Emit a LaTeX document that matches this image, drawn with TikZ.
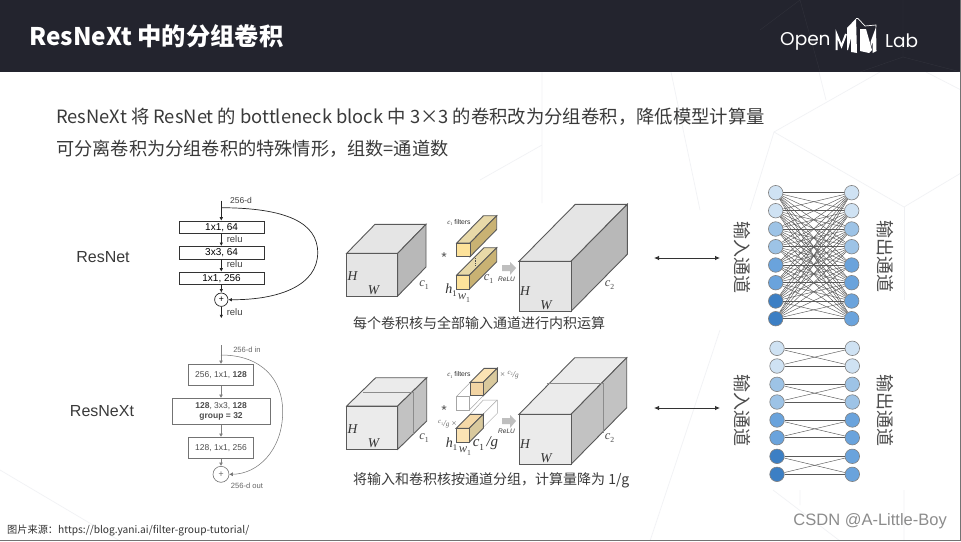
\documentclass[tikz,border=0pt]{standalone}
\usepackage{fontspec}
\setmainfont{Noto Sans CJK SC}
\newfontfamily\latinf{Liberation Sans}
\newfontfamily\popf{Poppins}[FontFace={m}{n}{Font=* Medium}]
\newfontfamily\seriff{Liberation Serif}
\usetikzlibrary{arrows.meta,calc}
\definecolor{hdr}{HTML}{23242E}
\definecolor{bodytxt}{HTML}{3A3A3A}
\definecolor{fillA}{HTML}{CFE2F3}
\definecolor{fillB}{HTML}{9DC3E6}
\definecolor{fillC}{HTML}{6AA3DC}
\definecolor{fillD}{HTML}{3C7FC4}
\definecolor{bgl}{HTML}{F1F2F5}
\definecolor{yelF}{HTML}{FDE29A}
\definecolor{yelT}{HTML}{E8D9A8}
\definecolor{yelS}{HTML}{C9B273}
\definecolor{sandF}{HTML}{FBE3B4}
\newcommand\lsub[2]{#1\raisebox{-.22em}{\scalebox{.62}{\upshape #2}}}
\newcommand\lsup[3]{\raisebox{.3em}{\scalebox{.75}{#1\raisebox{-.22em}{\scalebox{.62}{\upshape #2}}}}\raisebox{-.05em}{/}\scalebox{.8}{#3}}
\tikzset{
  flowbox/.style={draw=black!80,line width=.7pt,fill=white,minimum height=12.5pt,minimum width=85pt,inner sep=0pt,font=\latinf\fontsize{10}{10}\selectfont},
  xbox/.style={draw=black!55,line width=.6pt,fill=white,inner sep=0pt,font=\latinf\fontsize{8.5}{10.5}\selectfont,text=black!70,align=center},
  flowarrow/.style={-{Latex[length=3.5pt,width=3.5pt]},line width=.7pt,draw=black!85},
  xarrow/.style={-{Latex[length=3.5pt,width=4pt]},line width=.7pt,draw=black!50},
  small/.style={font=\latinf\fontsize{8.5}{8.5}\selectfont,text=black!75},
  relutext/.style={font=\latinf\fontsize{9.5}{9.5}\selectfont,text=black!75},
  neuron/.style={circle,draw=black!50,line width=.6pt,minimum size=14.5pt,inner sep=0pt},
  wire/.style={draw=black!65,line width=.45pt},
  vtext/.style={rotate=-90,font=\fontsize{18}{18}\selectfont,text=black!70},
  captext/.style={font=\fontsize{14}{14}\selectfont,text=bodytxt},
  mlabel/.style={inner sep=0pt,text=black!80},
  big/.style={mlabel,font=\seriff\itshape\fontsize{13.5}{14}\selectfont},
  mid/.style={mlabel,font=\seriff\itshape\fontsize{12.5}{13}\selectfont,text=black!70},
  midb/.style={mlabel,font=\seriff\itshape\fontsize{14}{14}\selectfont},
  starlab/.style={mlabel,font=\fontsize{15}{15}\selectfont,text=black!60},
  bgline/.style={draw=bgl,line width=.7pt},
  edgecube/.style={draw=black!65,line width=.9pt},
  tinytext/.style={mlabel,font=\latinf\fontsize{6.8}{7}\selectfont},
  fracl/.style={mlabel,font=\seriff\itshape\fontsize{9}{9}\selectfont,text=black!60},
}
% x y w h dx dy front top side
\newcommand\cuboid[9]{%
  \path[edgecube,fill=#8] (#1,#2) -- ++(#5,-#6) -- ++(#3,0) -- ++(-#5,#6) -- cycle;
  \path[edgecube,fill=#9] (#1,#2) ++(#3,0) -- ++(#5,-#6) -- ++(0,#4) -- ++(-#5,#6) -- cycle;
  \path[edgecube,fill=#7] (#1,#2) rectangle ++(#3,#4);
}
\begin{document}
\begin{tikzpicture}[x=1pt,y=-1pt]
\useasboundingbox (0,0) rectangle (961,541);
\fill[white] (0,0) rectangle (961,541);
% faint background lines
\draw[bgline] (542,72) -- (542,203) (542,145) -- (480,180);
\draw[bgline] (671,72) -- (700,210);
\draw[bgline] (819,72) -- (826,100);
\draw[bgline] (880,72) -- (774,132) -- (750,210);
\draw[bgline] (774,132) -- (904,207) -- (961,173);
\draw[bgline] (904,207) -- (904,300);
\draw[bgline] (926,72) -- (961,90);
\draw[bgline] (904,490) -- (904,541) (800,490) -- (800,505) (773,490) -- (840,541);
\draw[bgline] (0,470) -- (120,541);
\draw[bgline] (650,541) -- (720,330);
% header
\fill[hdr] (0,0) rectangle (961,72);
\draw[white,opacity=.06] (760,30) -- (800,0) (800,0) -- (820,72) (903,0) -- (903,57) -- (961,72) (903,57) -- (860,72);
\node[anchor=west,text=white,inner sep=0pt,font=\fontsize{24.3}{25}\bfseries\selectfont] (title) at (29,36) {ResNeXt 中的分组卷积};
% logo
\node[anchor=west,text=white,inner sep=0pt,font=\popf\fontsize{18.5}{19}\selectfont] (open) at (780,41) {Open};
\node[anchor=west,text=white,inner sep=0pt,font=\popf\fontsize{18.5}{19}\selectfont] (lab) at (885,41) {Lab};
\draw[white,line width=2pt,line join=miter] (836.5,50) -- (836.5,34) -- (841.5,46) -- (846,34);
\fill[white] (847,28) -- (856,18.5) -- (857,53) -- (851,52) -- (851,38) -- (848,50) -- (847,50) -- cycle;
\draw[white,line width=.7pt] (856,18.5) -- (858,18.5) -- (865,26) -- (876,25) -- (876,27);
\fill[white] (860,29) -- (866,29) -- (872,50) -- (869,53) -- (860,51) -- cycle;
\fill[white] (870.5,42) -- (876,27) -- (876.5,51) -- (872.5,53) -- (872.5,42) -- (871,47) -- cycle;
% body text
\node[anchor=west,text=bodytxt,inner sep=0pt,font=\fontsize{18.35}{19}\selectfont] (l1) at (56,117) {ResNeXt 将 ResNet 的 bottleneck block 中 3×3 的卷积改为分组卷积，降低模型计算量};
\node[anchor=west,text=bodytxt,inner sep=0pt,font=\fontsize{18.2}{19}\selectfont] (l2) at (56,149) {可分离卷积为分组卷积的特殊情形，组数=通道数};
\node[text=bodytxt,inner sep=0pt,font=\latinf\fontsize{16}{16}\selectfont] (rn) at (103,257) {ResNet};
\node[text=bodytxt,inner sep=0pt,font=\latinf\fontsize{16}{16}\selectfont] (rx) at (102,411) {ResNeXt};
% ResNet block
\coordinate (r0) at (221.3,200.7);
\coordinate (r0b) at (221.3,207.7);
\coordinate (rend) at (221.3,318.3);
\node[flowbox] (r1) at (221.6,227.3) {1x1, 64};
\node[flowbox] (r2) at (221.6,252.6) {3x3, 64};
\node[flowbox] (r3) at (221.6,278.3) {1x1, 256};
\node[circle,draw=black!85,line width=.7pt,minimum size=13.4pt,inner sep=0pt,font=\fontsize{9}{9}\selectfont] (rp) at (221.3,299.7) {+};
\draw[flowarrow] (r0) -- (r0|-r1.north);
\draw[flowarrow] (r0|-r1.south) -- (r0|-r2.north);
\draw[flowarrow] (r0|-r2.south) -- (r0|-r3.north);
\draw[flowarrow] (r0|-r3.south) -- (rp);
\draw[flowarrow] (rp) -- (rend);
\draw[flowarrow] (r0b) .. controls (285,208) and (318,222) .. (317.7,253) .. controls (317.5,285) and (280,300) .. (rp.east);
\node[small] (t1) at (241,200) {256-d};
\node[relutext] (t2) at (234.7,239) {relu};
\node[relutext] (t3) at (234.7,264.3) {relu};
\node[relutext] (t4) at (234.7,311.7) {relu};
% ResNeXt block
\coordinate (x0) at (221,345);
\coordinate (x0b) at (221,355);
\node[xbox,minimum width=65.4pt,minimum height=21pt] (x1) at (221,374.8) {256, 1x1, \textbf{128}};
\node[xbox,minimum width=98.3pt,minimum height=26pt] (x2) at (221.1,411.3) {\textbf{128}, 3x3, \textbf{128}\\\textbf{group = 32}};
\node[xbox,minimum width=65.4pt,minimum height=21pt] (x3) at (221,447.8) {128, 1x1, 256};
\node[circle,draw=black!55,line width=.6pt,minimum size=16pt,inner sep=0pt,text=black!60,font=\fontsize{9}{9}\selectfont] (xp) at (221,474.3) {+};
\draw[xarrow] (x0) -- (x1);
\draw[xarrow] (x1) -- (x1|-x2.north);
\draw[xarrow] (x1|-x2.south) -- (x3);
\draw[xarrow] (x3) -- (xp);
\draw[-{Latex[length=3.5pt,width=4pt]},line width=.5pt,draw=black!55] (x0b) .. controls (262,355) and (283,380) .. (282.7,412) .. controls (282.5,450) and (258,474) .. (xp.east);
\node[small,text=black!60,font=\latinf\fontsize{7.6}{8}\selectfont] (t5) at (247,349.3) {256-d in};
\node[small,text=black!60,font=\latinf\fontsize{7.6}{8}\selectfont] (t6) at (247,486) {256-d out};
% Row 1 cubes
\cuboid{346.7}{253.3}{51}{42.7}{28.3}{29}{black!10}{black!10}{black!28}
\node[big] (m1) at (352.5,276) {H};
\node[big] (m2) at (373.5,290) {W};
\node[mid] (m3) at (424,285) {\lsub{c}{1}};
\node[starlab] (m4) at (444,259) {*};
\cuboid{456.7}{243}{13.3}{13.7}{26.7}{27.3}{yelF}{yelT}{yelS}
\cuboid{456.7}{275}{12.7}{14}{27.3}{27.3}{yelF}{yelT}{yelS}
\draw[black!70,densely dotted,line width=.7pt] (475.7,258) -- (475.7,266);
\node[tinytext] (m5) at (459,222.7) {{\seriff\itshape\lsub{c}{1}} filters};
\node[mid] (m6) at (488.5,279) {\lsub{c}{1}};
\node[midb] (m7) at (451,290) {\lsub{h}{1}};
\node[mid] (m8) at (464,298) {\lsub{w}{1}};
\fill[black!25] (502,265) -- (510,265) -- (510,262) -- (516,268) -- (510,275) -- (510,271) -- (502,271) -- cycle;
\node[tinytext,font=\latinf\itshape\fontsize{6.5}{7}\selectfont] (m9) at (506.5,279) {ReLU};
\cuboid{519}{261.3}{52}{50}{56.3}{57}{black!10}{black!10}{black!28}
\node[big] (m10) at (525,291) {H};
\node[big] (m11) at (546,305) {W};
\node[mid] (m12) at (609.5,285) {\lsub{c}{2}};
\node[captext] (c1) at (479,323) {每个卷积核与全部输入通道进行内积运算};
% Row 2 cubes
\cuboid{346.7}{406}{51}{43.3}{29}{28.3}{black!8}{black!8}{black!24}
\draw[black!45,line width=.4pt] (363.3,391.7) -- (412.7,391.7) -- (412.7,435);
\node[big] (n1) at (352.5,429) {H};
\node[big] (n2) at (373.5,443) {W};
\node[mid] (n3) at (424,438) {\lsub{c}{1}};
\node[starlab] (n4) at (444,411.5) {*};
% ghost filters
\begin{scope}[black!35,line width=.5pt]
\draw (456.3,396.7) rectangle (469.3,410);
\draw (456.3,396.7) -- (470.3,382.3);
\draw (469.3,396.7) -- (483.3,382.3);
\draw (469.3,410) -- (483.3,395.7);
\draw (470.3,414) -- (483.3,400) -- (497.3,400) -- (497.3,413.3) -- (483.3,427.3);
\draw (483.3,414) -- (497.3,400);
\end{scope}
\cuboid{470.3}{382.3}{13}{13.4}{14}{14}{sandF!85!brown}{sandF}{yelS!70!white}
\cuboid{456.3}{428.3}{13}{14}{14}{14}{sandF}{sandF!90!brown}{yelS!70!white}
\node[tinytext] (n5) at (459,375) {{\seriff\itshape\lsub{c}{1}} filters};
\node[fracl] (n6) at (509.5,375) {\textup{×} \lsup{c}{2}{g}};
\node[fracl] (n7) at (447.5,424.3) {\lsup{c}{1}{g} \textup{×}};
\node[midb,font=\seriff\itshape\fontsize{15}{15}\selectfont] (n8) at (485.5,443.5) {\lsub{c}{1}\,/g};
\node[midb] (n9) at (451.5,444) {\lsub{h}{1}};
\node[mid] (n10) at (465,451) {\lsub{w}{1}};
\fill[black!25] (502,418) -- (510,418) -- (510,415) -- (516,421) -- (510,428) -- (510,424) -- (502,424) -- cycle;
\node[tinytext,font=\latinf\itshape\fontsize{6.5}{7}\selectfont] (n11) at (506.5,431) {ReLU};
\cuboid{519}{414.3}{52}{50}{55.7}{56.6}{black!8}{black!8}{black!24}
\draw[black!45,line width=.4pt] (546.7,383.3) -- (602.7,383.3) -- (602.7,433.3);
\node[big] (n12) at (525,444) {H};
\node[big] (n13) at (546,458) {W};
\node[mid] (n14) at (609.5,438) {\lsub{c}{2}};
\node[captext,anchor=west,inner sep=0pt] (c2) at (353,480) {将输入和卷积核按通道分组，计算量降为 1/g};
% double arrows
\coordinate (da1) at (654,258);\coordinate (da2) at (720,258);
\coordinate (db1) at (654,408);\coordinate (db2) at (720,408);
\draw[{Latex[length=5pt,width=4.5pt]}-{Latex[length=5pt,width=4.5pt]},line width=.8pt,black!80] (da1) -- (da2);
\draw[{Latex[length=5pt,width=4.5pt]}-{Latex[length=5pt,width=4.5pt]},line width=.8pt,black!80] (db1) -- (db2);
% Network 1
\foreach \i/\y/\c/\d in {1/192.7/fillA/fillA,2/210.7/fillA/fillA,3/229/fillB/fillB,4/246.7/fillB/fillB,5/265/fillC/fillC,6/282.7/fillC/fillC,7/301/fillD/fillC,8/318.7/fillD/fillC}{
  \node[neuron,fill=\c] (a\i) at (775.7,\y) {};
  \node[neuron,fill=\d] (b\i) at (851.7,\y) {};
}
\foreach \i in {1,...,8}{\foreach \j in {1,...,8}{\draw[wire] (a\i) -- (b\j);}}
% Network 2
\foreach \i/\y/\c/\d in {1/348.3/fillA/fillA,2/366/fillA/fillA,3/384.3/fillB/fillB,4/402/fillB/fillB,5/420/fillC/fillC,6/437.7/fillC/fillC,7/456.3/fillD/fillC,8/474.3/fillD/fillC}{
  \node[neuron,fill=\c] (p\i) at (777,\y) {};
  \node[neuron,fill=\d] (q\i) at (852.3,\y) {};
}
\foreach \i/\j in {1/2,3/4,5/6,7/8}{
  \draw[wire] (p\i) -- (q\i);
  \draw[wire] (p\j) -- (q\j);
  \draw[wire] (p\i) -- (q\j);
  \draw[wire] (p\j) -- (q\i);
}
\node[vtext] (v1) at (742,257) {输入通道};
\node[vtext] (v2) at (885,256) {输出通道};
\node[vtext] (v3) at (742,410) {输入通道};
\node[vtext] (v4) at (885,410) {输出通道};
% source
\node[anchor=west,inner sep=0pt,text=black!80,font=\fontsize{10.2}{11}\selectfont] (src) at (7,530) {图片来源：https://blog.yani.ai/filter-group-tutorial/};
\node[anchor=east,inner sep=0pt,text=black!45,font=\latinf\fontsize{16.5}{17}\selectfont] (wm) at (947,521) {CSDN @A-Little-Boy};
\draw[black!55,line width=.8pt] (0,540.5) -- (960.5,540.5) -- (960.5,0);
\end{tikzpicture}
\end{document}
